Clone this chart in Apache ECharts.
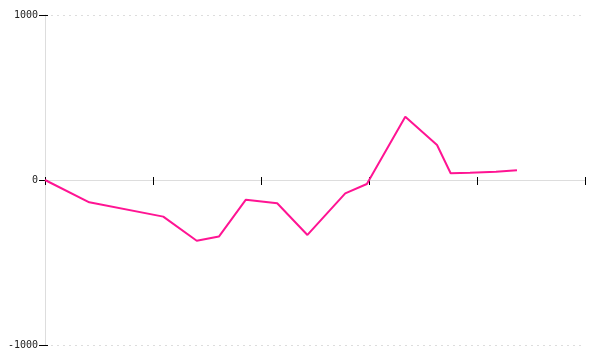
<!DOCTYPE html>
<html><head><meta charset="utf-8">
<script src="https://cdn.jsdelivr.net/npm/echarts@6/dist/echarts.min.js"></script>
<style>html,body{margin:0;padding:0;background:#fff}#c{width:600px;height:360px}</style>
</head><body><div id="c"></div>
<script>
const xValues = [0, 41, 109.5, 140.5, 161, 186, 215, 243, 278, 298, 333.6, 363, 375.6, 393.5, 417.6, 437];
const yValues = [0, -135, -222, -368, -343, -119, -141, -333, -81, -24, 384, 212, 41, 44, 50, 59];
const yTicks = [-1000, 0, 1000];

const chart = echarts.init(document.getElementById('c'));
const font = {fontFamily: 'DejaVu Sans Mono', fontSize: 10, color: '#222'};
chart.setOption({
  animation: false,
  grid: {left: 45, right: 15, top: 15, bottom: 15, containLabel: false, outerBoundsMode: 'none'},
  xAxis: [
    {type: 'value', min: 0, max: 500, interval: 100, position: 'bottom',
     axisLine: {onZero: true, lineStyle: {color: '#ddd', width: 1}},
     axisTick: {show: true, length: 5, lineStyle: {color: '#000'}},
     axisLabel: {show: false}, splitLine: {show: false}},
    {type: 'value', min: 0, max: 500, interval: 100, position: 'top', offset: -165,
     axisLine: {show: false, onZero: false},
     axisTick: {show: true, inside: false, length: 3, lineStyle: {color: '#000'}},
     axisLabel: {show: false}, splitLine: {show: false}}
  ],
  yAxis: [
    {type: 'value', min: yTicks[0], max: yTicks[2], interval: 1000, position: 'left',
     axisLine: {show: true, lineStyle: {color: '#ddd'}},
     axisTick: {show: true, length: 6, lineStyle: {color: '#000'}},
     axisLabel: Object.assign({margin: 7, formatter: v => String(v)}, font),
     splitLine: {show: true, lineStyle: {color: '#ddd', type: [2, 4]}}},
    {type: 'value', min: yTicks[0], max: yTicks[2], interval: 1000, position: 'right', offset: -540,
     axisLine: {show: false, onZero: false},
     axisTick: {show: true, inside: false, length: 3, lineStyle: {color: '#000'}},
     axisLabel: {show: false}, splitLine: {show: false}}
  ],
  series: [
    {type: 'line', xAxisIndex: 0, yAxisIndex: 0,
     data: xValues.map((x, i) => [x, yValues[i]]),
     symbol: 'none', lineStyle: {color: '#ff1493', width: 2}, itemStyle: {color: '#ff1493'}}
  ]
});
</script></body></html>
